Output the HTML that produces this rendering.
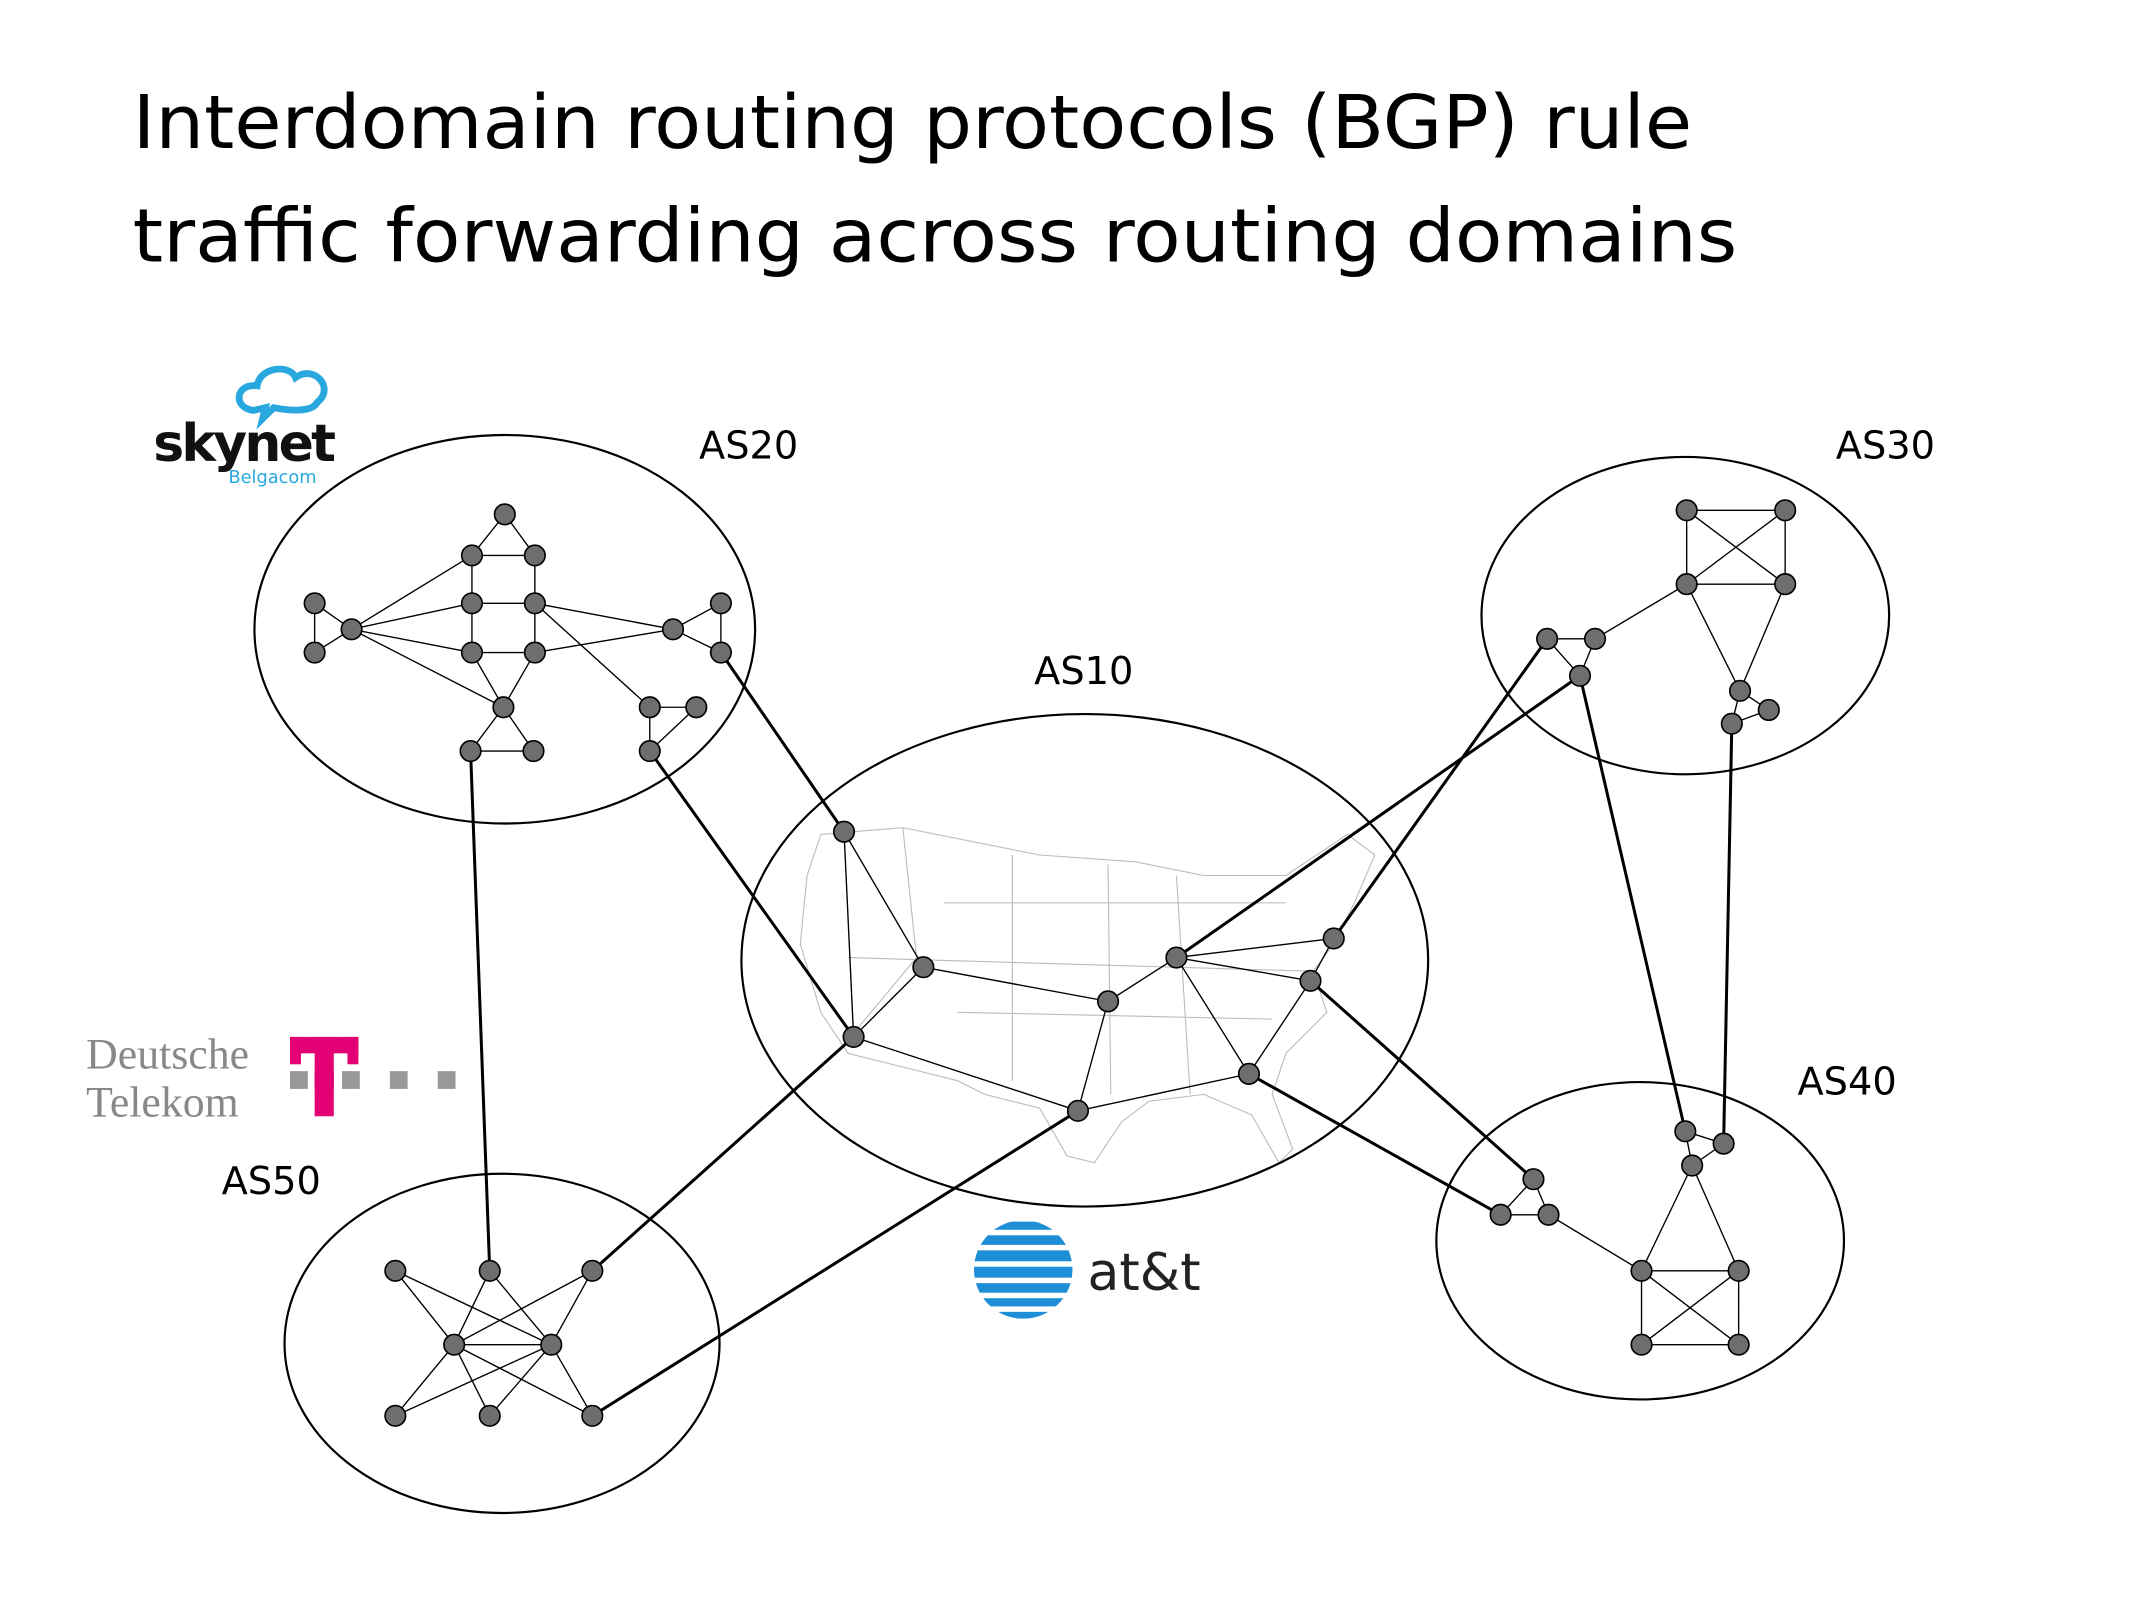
<!DOCTYPE html>
<html><head><meta charset="utf-8"><style>
html,body{margin:0;padding:0;background:#fff}
svg{display:block}
</style></head><body>
<svg width="2134" height="1600" viewBox="0 0 1560 1169.6" xmlns="http://www.w3.org/2000/svg" font-family="'DejaVu Sans','Liberation Sans',sans-serif">
<rect width="1560" height="1170" fill="#fff"/>
<text x="97" y="108" font-size="54" fill="#000" textLength="1140" lengthAdjust="spacingAndGlyphs">Interdomain routing protocols (BGP) rule</text>
<text x="97" y="191" font-size="54" fill="#000" textLength="1173" lengthAdjust="spacingAndGlyphs">traffic forwarding across routing domains</text>

<g stroke="#bbb" stroke-width="0.8" fill="none">
<path d="M600,610 L660,605 L760,625 L830,630 L880,640 L940,640 L985,610 L1005,625 L990,660 L975,690 L960,710 L970,740 L940,770 L930,800 L945,840 L935,850 L915,815 L880,800 L840,805 L820,820 L800,850 L780,845 L760,810 L720,800 L700,790 L660,780 L620,770 L600,740 L585,690 L590,640 Z"/>
<path d="M660,605 L670,700 L620,760 M740,625 L740,790 M810,632 L812,800 M690,660 L940,660 M620,700 L960,710 M700,740 L930,745 M860,640 L870,800"/>
</g>

<g fill="none" stroke="#000" stroke-width="1.6">
<ellipse cx="369" cy="460" rx="183" ry="142"/>
<ellipse cx="793" cy="702" rx="251" ry="180"/>
<ellipse cx="1232" cy="450" rx="149" ry="116"/>
<ellipse cx="1199" cy="907" rx="149" ry="116"/>
<ellipse cx="367" cy="982" rx="159" ry="124"/>
</g>
<g font-size="28" fill="#000">
<text x="511" y="335">AS20</text>
<text x="756" y="500">AS10</text>
<text x="1342" y="335">AS30</text>
<text x="1314" y="800">AS40</text>
<text x="162" y="873">AS50</text>
</g>

<g stroke="#000" stroke-width="2.2">
<line x1="527" y1="477" x2="617" y2="608"/>
<line x1="475" y1="549" x2="624" y2="758"/>
<line x1="344" y1="549" x2="358" y2="929"/>
<line x1="433" y1="929" x2="624" y2="758"/>
<line x1="433" y1="1035" x2="788" y2="812"/>
<line x1="860" y1="700" x2="1155" y2="494"/>
<line x1="975" y1="686" x2="1131" y2="467"/>
<line x1="1155" y1="494" x2="1232" y2="827"/>
<line x1="1266" y1="529" x2="1260" y2="836"/>
<line x1="958" y1="717" x2="1121" y2="862"/>
<line x1="913" y1="785" x2="1097" y2="888"/>
</g>

<g stroke="#000" stroke-width="1" fill="none">
<path d="M369,376L345,406M369,376L391,406M345,406L391,406M345,406L345,441M391,406L391,441M345,441L391,441M345,441L345,477M391,441L391,477M345,477L391,477M230,441L230,477M230,441L257,460M230,477L257,460M257,460L345,406M257,460L345,441M257,460L345,477M257,460L368,517M391,441L492,460M391,477L492,460M391,441L475,517M492,460L527,441M492,460L527,477M527,441L527,477M345,477L368,517M391,477L368,517M368,517L344,549M368,517L390,549M344,549L390,549M475,517L509,517M509,517L475,549M475,517L475,549"/>
<path d="M617,608L624,758M617,608L675,707M675,707L810,732M624,758L675,707M624,758L788,812M788,812L913,785M810,732L860,700M860,700L975,686M860,700L958,717M860,700L913,785M913,785L958,717M975,686L958,717M810,732L788,812"/>
<path d="M1233,373L1305,373L1305,427L1233,427ZM1233,373L1305,427M1305,373L1233,427M1233,427L1166,467M1131,467L1166,467M1131,467L1155,494M1166,467L1155,494M1233,427L1272,505M1305,427L1272,505M1272,505L1293,519M1272,505L1266,529M1293,519L1266,529"/>
<path d="M1232,827L1260,836L1237,852ZM1237,852L1200,929M1237,852L1271,929M1200,929L1271,929L1271,983L1200,983ZM1200,929L1271,983M1271,929L1200,983M1132,888L1200,929M1121,862L1097,888L1132,888Z"/>
<path d="M289,929L332,983M289,929L403,983M358,929L332,983M358,929L403,983M433,929L332,983M433,929L403,983M332,983L403,983M332,983L289,1035M332,983L358,1035M332,983L433,1035M403,983L289,1035M403,983L358,1035M403,983L433,1035"/>
</g>

<g fill="#6e6e6e" stroke="#000" stroke-width="1.2">
<circle cx="369" cy="376" r="7.5"/><circle cx="345" cy="406" r="7.5"/><circle cx="391" cy="406" r="7.5"/>
<circle cx="345" cy="441" r="7.5"/><circle cx="391" cy="441" r="7.5"/><circle cx="230" cy="441" r="7.5"/>
<circle cx="230" cy="477" r="7.5"/><circle cx="257" cy="460" r="7.5"/><circle cx="345" cy="477" r="7.5"/>
<circle cx="391" cy="477" r="7.5"/><circle cx="492" cy="460" r="7.5"/><circle cx="527" cy="441" r="7.5"/>
<circle cx="527" cy="477" r="7.5"/><circle cx="368" cy="517" r="7.5"/><circle cx="344" cy="549" r="7.5"/>
<circle cx="390" cy="549" r="7.5"/><circle cx="475" cy="517" r="7.5"/><circle cx="509" cy="517" r="7.5"/>
<circle cx="475" cy="549" r="7.5"/>
<circle cx="617" cy="608" r="7.5"/><circle cx="675" cy="707" r="7.5"/><circle cx="624" cy="758" r="7.5"/>
<circle cx="810" cy="732" r="7.5"/><circle cx="860" cy="700" r="7.5"/><circle cx="788" cy="812" r="7.5"/>
<circle cx="913" cy="785" r="7.5"/><circle cx="975" cy="686" r="7.5"/><circle cx="958" cy="717" r="7.5"/>
<circle cx="1233" cy="373" r="7.5"/><circle cx="1305" cy="373" r="7.5"/><circle cx="1233" cy="427" r="7.5"/>
<circle cx="1305" cy="427" r="7.5"/><circle cx="1131" cy="467" r="7.5"/><circle cx="1166" cy="467" r="7.5"/>
<circle cx="1155" cy="494" r="7.5"/><circle cx="1272" cy="505" r="7.5"/><circle cx="1293" cy="519" r="7.5"/>
<circle cx="1266" cy="529" r="7.5"/>
<circle cx="1232" cy="827" r="7.5"/><circle cx="1260" cy="836" r="7.5"/><circle cx="1237" cy="852" r="7.5"/>
<circle cx="1121" cy="862" r="7.5"/><circle cx="1097" cy="888" r="7.5"/><circle cx="1132" cy="888" r="7.5"/>
<circle cx="1200" cy="929" r="7.5"/><circle cx="1271" cy="929" r="7.5"/><circle cx="1200" cy="983" r="7.5"/>
<circle cx="1271" cy="983" r="7.5"/>
<circle cx="289" cy="929" r="7.5"/><circle cx="358" cy="929" r="7.5"/><circle cx="433" cy="929" r="7.5"/>
<circle cx="332" cy="983" r="7.5"/><circle cx="403" cy="983" r="7.5"/><circle cx="289" cy="1035" r="7.5"/>
<circle cx="358" cy="1035" r="7.5"/><circle cx="433" cy="1035" r="7.5"/>
</g>

<path d="M185,300 C170,298 172,280 188,282 C190,268 212,266 216,276 C230,266 245,284 232,294 C228,302 210,300 200,298 L192,306 L194,298 Z" fill="none" stroke="#29a8e0" stroke-width="5"/>
<text x="112" y="337" font-size="38" font-weight="bold" fill="#111" letter-spacing="-2" font-family="'DejaVu Sans',sans-serif">skynet</text>
<text x="167" y="353" font-size="13" fill="#29a8e0">Belgacom</text>

<text x="63" y="781" font-size="32" fill="#888" font-family="'Liberation Serif',serif">Deutsche</text>
<text x="63" y="816" font-size="32" fill="#888" font-family="'Liberation Serif',serif">Telekom</text>
<rect x="212" y="758" width="50" height="12" fill="#e20074"/>
<rect x="230" y="758" width="14" height="58" fill="#e20074"/>
<rect x="212" y="758" width="8" height="20" fill="#e20074"/>
<rect x="254" y="758" width="8" height="20" fill="#e20074"/>
<g fill="#999"><rect x="212" y="783" width="13" height="13"/><rect x="250" y="783" width="13" height="13"/><rect x="285" y="783" width="13" height="13"/><rect x="320" y="783" width="13" height="13"/></g>
<rect x="230" y="783" width="14" height="13" fill="#e20074"/>

<defs><clipPath id="g"><circle cx="748" cy="928" r="36"/></clipPath></defs>
<circle cx="748" cy="928" r="36" fill="#fff"/>
<g clip-path="url(#g)" fill="#1e8fd6">
<rect x="700" y="893" width="100" height="6"/><rect x="700" y="903" width="100" height="7"/>
<rect x="700" y="914" width="100" height="8"/><rect x="700" y="926" width="100" height="8"/>
<rect x="700" y="938" width="100" height="7"/><rect x="700" y="949" width="100" height="6"/>
<rect x="700" y="959" width="100" height="5"/>
</g>
<text x="795" y="943" font-size="38" fill="#222" font-family="'DejaVu Sans',sans-serif">at&amp;t</text>
</svg>
</body></html>
